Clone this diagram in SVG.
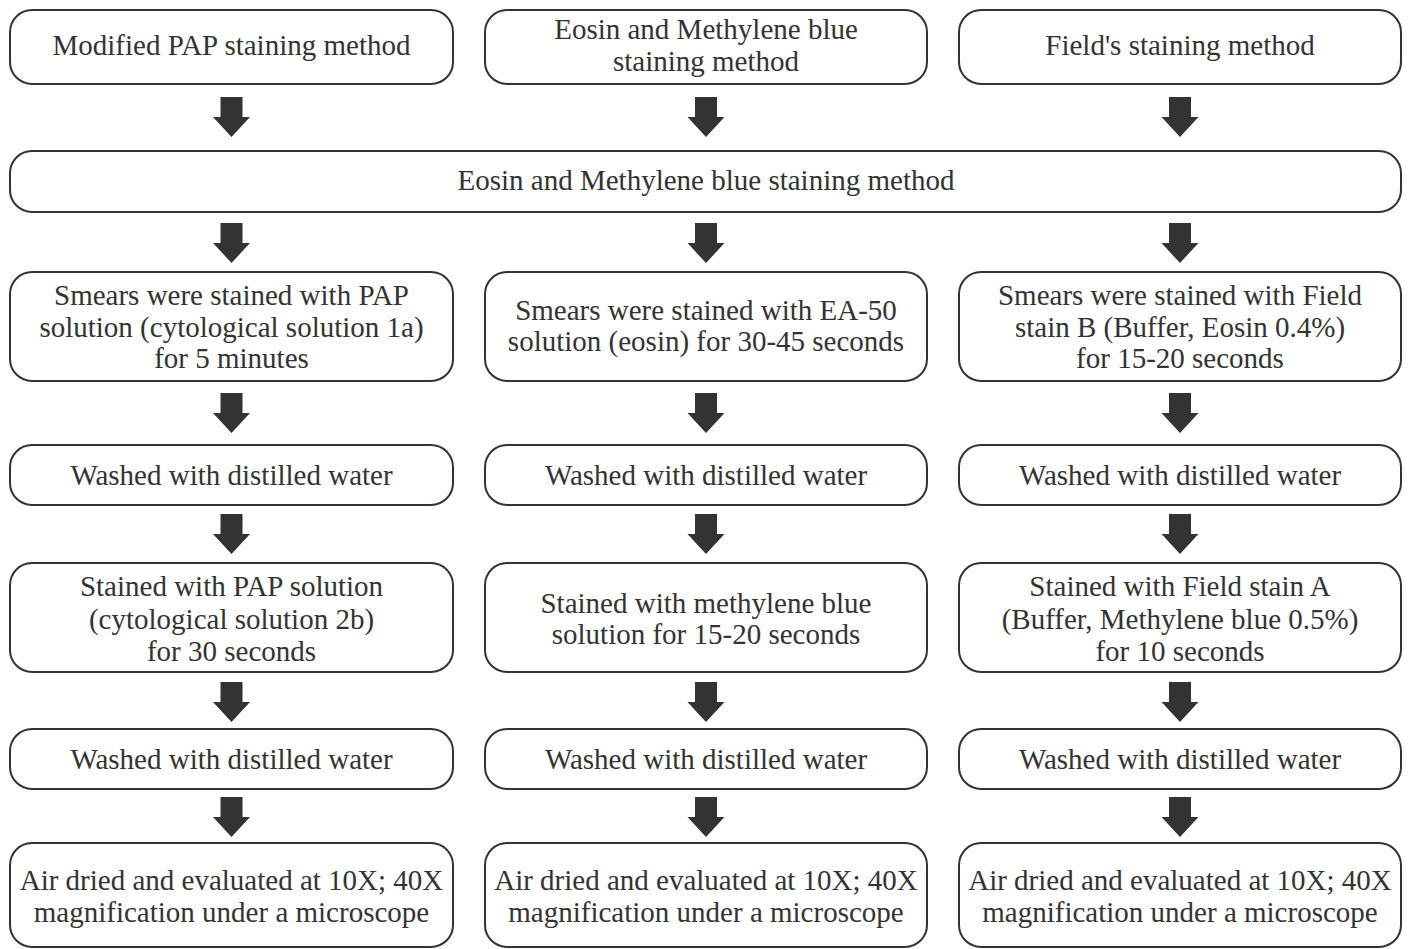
<svg xmlns="http://www.w3.org/2000/svg" xmlns:xlink="http://www.w3.org/1999/xlink" width="1411" height="949" viewBox="0 0 1411 949">
<style>
.box{fill:#fff;stroke:#333;stroke-width:2}
.t{font-size:29px;fill:#333;text-anchor:middle}
.arr{fill:#333}
</style>
<defs>
<path id="arr" d="M-11,0 H11 V20 H18.5 L0,40 L-18.5,20 H-11 Z"/>
</defs>
<rect width="1411" height="949" fill="#fff"/>
<g id="connectors" class="arr">
<use xlink:href="#arr" x="231.5" y="97"/><use xlink:href="#arr" x="706" y="97"/><use xlink:href="#arr" x="1180" y="97"/>
<use xlink:href="#arr" x="231.5" y="223"/><use xlink:href="#arr" x="706" y="223"/><use xlink:href="#arr" x="1180" y="223"/>
<use xlink:href="#arr" x="231.5" y="393"/><use xlink:href="#arr" x="706" y="393"/><use xlink:href="#arr" x="1180" y="393"/>
<use xlink:href="#arr" x="231.5" y="514"/><use xlink:href="#arr" x="706" y="514"/><use xlink:href="#arr" x="1180" y="514"/>
<use xlink:href="#arr" x="231.5" y="682"/><use xlink:href="#arr" x="706" y="682"/><use xlink:href="#arr" x="1180" y="682"/>
<use xlink:href="#arr" x="231.5" y="797"/><use xlink:href="#arr" x="706" y="797"/><use xlink:href="#arr" x="1180" y="797"/>
</g>
<g class="t" font-family="'Times New Roman', 'Liberation Serif', Tinos, 'DejaVu Serif', 'Noto Serif', serif">
<g id="n1a"><rect class="box" x="10" y="10" width="443" height="74" rx="22"/><text x="231.5" y="55">Modified PAP staining method</text></g>
<g id="n1b"><rect class="box" x="485" y="10" width="442" height="74" rx="22"/><text x="706" y="39">Eosin and Methylene blue</text><text x="706" y="71">staining method</text></g>
<g id="n1c"><rect class="box" x="959" y="10" width="442" height="74" rx="22"/><text x="1180" y="55">Field's staining method</text></g>
<g id="n2"><rect class="box" x="10" y="151" width="1391" height="61" rx="22"/><text x="706" y="190">Eosin and Methylene blue staining method</text></g>
<g id="n3a"><rect class="box" x="10" y="272" width="443" height="109" rx="22"/><text x="231.5" y="305">Smears were stained with PAP</text><text x="231.5" y="337">solution (cytological solution 1a)</text><text x="231.5" y="368">for 5 minutes</text></g>
<g id="n3b"><rect class="box" x="485" y="272" width="442" height="109" rx="22"/><text x="706" y="320">Smears were stained with EA-50</text><text x="706" y="351">solution (eosin) for 30-45 seconds</text></g>
<g id="n3c"><rect class="box" x="959" y="272" width="442" height="109" rx="22"/><text x="1180" y="305">Smears were stained with Field</text><text x="1180" y="337">stain B (Buffer, Eosin 0.4%)</text><text x="1180" y="368">for 15-20 seconds</text></g>
<g id="n4a"><rect class="box" x="10" y="445" width="443" height="60" rx="22"/><text x="231.5" y="485">Washed with distilled water</text></g>
<g id="n4b"><rect class="box" x="485" y="445" width="442" height="60" rx="22"/><text x="706" y="485">Washed with distilled water</text></g>
<g id="n4c"><rect class="box" x="959" y="445" width="442" height="60" rx="22"/><text x="1180" y="485">Washed with distilled water</text></g>
<g id="n5a"><rect class="box" x="10" y="563" width="443" height="109" rx="22"/><text x="231.5" y="596">Stained with PAP solution</text><text x="231.5" y="629">(cytological solution 2b)</text><text x="231.5" y="661">for 30 seconds</text></g>
<g id="n5b"><rect class="box" x="485" y="563" width="442" height="109" rx="22"/><text x="706" y="613">Stained with methylene blue</text><text x="706" y="644">solution for 15-20 seconds</text></g>
<g id="n5c"><rect class="box" x="959" y="563" width="442" height="109" rx="22"/><text x="1180" y="596">Stained with Field stain A</text><text x="1180" y="629">(Buffer, Methylene blue 0.5%)</text><text x="1180" y="661">for 10 seconds</text></g>
<g id="n6a"><rect class="box" x="10" y="729" width="443" height="60" rx="22"/><text x="231.5" y="769">Washed with distilled water</text></g>
<g id="n6b"><rect class="box" x="485" y="729" width="442" height="60" rx="22"/><text x="706" y="769">Washed with distilled water</text></g>
<g id="n6c"><rect class="box" x="959" y="729" width="442" height="60" rx="22"/><text x="1180" y="769">Washed with distilled water</text></g>
<g id="n7a"><rect class="box" x="10" y="843" width="443" height="104" rx="22"/><text x="231.5" y="890">Air dried and evaluated at 10X; 40X</text><text x="231.5" y="922">magnification under a microscope</text></g>
<g id="n7b"><rect class="box" x="485" y="843" width="442" height="104" rx="22"/><text x="706" y="890">Air dried and evaluated at 10X; 40X</text><text x="706" y="922">magnification under a microscope</text></g>
<g id="n7c"><rect class="box" x="959" y="843" width="442" height="104" rx="22"/><text x="1180" y="890">Air dried and evaluated at 10X; 40X</text><text x="1180" y="922">magnification under a microscope</text></g>
</g>
</svg>
